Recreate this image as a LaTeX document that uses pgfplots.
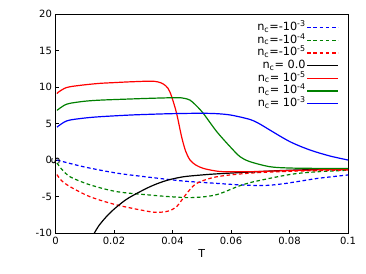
\documentclass[border=0pt]{standalone}
\usepackage{fontspec}
\setmainfont{DejaVu Sans}
\usepackage{pgfplots}
\pgfplotsset{compat=1.18}
\definecolor{dg}{rgb}{0,0.5,0}
\begin{document}
\fontsize{10bp}{12bp}\selectfont
\begin{tikzpicture}[x=1bp,y=1bp]
\useasboundingbox (-55.5,-41) rectangle (310.5,233);
\begin{axis}[
  at={(0,0)}, anchor=south west,
  scale only axis, width=292.5bp, height=219bp,
  xmin=0, xmax=0.1, ymin=-10, ymax=20,
  xtick={0,0.02,0.04,0.06,0.08,0.1},
  xticklabels={0,0.02,0.04,0.06,0.08,0.1},
  ytick={-10,-5,0,5,10,15,20},
  yticklabels={-10,-5,0,5,10,15,20},
  tick align=inside, xtick pos=bottom, ytick pos=left,
  major tick length=3.5bp,
  axis line style={line width=0.9bp},
  tick style={line width=0.7bp, black},
  xlabel={T}, ylabel={S},
  xlabel style={at={(axis description cs:0.5,0)}, anchor=center, yshift=-20bp, font=\fontsize{11bp}{12bp}\selectfont},
  ylabel style={at={(axis description cs:0,0.5)}, anchor=center, xshift=-37.5bp, rotate=0, font=\fontsize{11bp}{12bp}\selectfont},
  xticklabel style={yshift=-1bp},
  every tick label/.append style={font=\fontsize{10bp}{12bp}\selectfont},
  legend cell align=right,
  legend plot pos=right,
  legend style={at={(axis cs:0.1,20)}, anchor=north east, xshift=-8bp, yshift=-6bp, draw=none, fill=white,
    font=\fontsize{11.3bp}{12bp}\selectfont, row sep=0bp, inner sep=1bp,
    nodes={inner sep=1bp, text height=8.2bp, text depth=2.5bp}},
  legend image code/.code={\draw[#1, line width=1.2bp] (0bp,0bp) -- (31bp,0bp);},
  every axis plot/.append style={line width=1.2bp},
  clip=true,
]
\pgfplotsset{dsh/.style={dash pattern=on 3.6bp off 2.6bp}}
% n_c = -1e-3
\addplot[blue, dsh, smooth] coordinates {(0.0005,0)(0.0095,-0.92)(0.021,-1.8)(0.0323,-2.37)(0.0437,-2.88)(0.0551,-3.2)(0.0635,-3.42)(0.071,-3.5)(0.077,-3.3)(0.0825,-2.97)(0.09,-2.5)(0.1,-2.05)};
\addlegendentry{n\textsubscript{c}=-10\textsuperscript{-3}}
% n_c = -1e-4
\addplot[dg, dsh, smooth] coordinates {(0.0005,-0.4)(0.002,-1.2)(0.005,-2.3)(0.0118,-3.4)(0.021,-4.34)(0.0323,-4.8)(0.04,-5.05)(0.046,-5.16)(0.0517,-5.0)(0.0555,-4.7)(0.0585,-4.25)(0.0625,-3.6)(0.0665,-3.1)(0.071,-2.7)(0.0765,-2.25)(0.0825,-1.85)(0.09,-1.6)(0.1,-1.4)};
\addlegendentry{n\textsubscript{c}=-10\textsuperscript{-4}}
% n_c = -1e-5
\addplot[red, dsh, smooth] coordinates {(0.0005,-2.0)(0.002,-2.8)(0.005,-3.66)(0.0118,-5.03)(0.021,-6.16)(0.0323,-7.08)(0.036,-7.15)(0.0385,-7.0)(0.0414,-6.4)(0.0449,-4.56)(0.0483,-3.2)(0.0551,-2.3)(0.0665,-1.8)(0.08,-1.55)(0.1,-1.37)};
\addlegendentry{n\textsubscript{c}=-10\textsuperscript{-5}}
% n_c = 0
\addplot[black, smooth] coordinates {(0.0133,-10)(0.015,-8.9)(0.018,-7.5)(0.021,-6.4)(0.025,-5.2)(0.0323,-3.66)(0.038,-2.8)(0.0437,-2.3)(0.05,-2.05)(0.0551,-1.9)(0.0665,-1.65)(0.08,-1.4)(0.1,-1.2)};
\addlegendentry{n\textsubscript{c}= 0.0}
% n_c = 1e-5
\addplot[red, smooth] coordinates {(0.0005,9.1)(0.001,9.3)(0.003,9.8)(0.005,10.04)(0.01,10.3)(0.0152,10.5)(0.02,10.6)(0.025,10.7)(0.0323,10.8)(0.035,10.7)(0.0369,10.4)(0.0385,9.8)(0.0397,8.7)(0.0414,6.4)(0.0431,3.2)(0.0445,1.2)(0.046,0.0)(0.048,-0.7)(0.0505,-1.14)(0.054,-1.45)(0.0574,-1.6)(0.0665,-1.6)(0.08,-1.45)(0.1,-1.25)};
\addlegendentry{n\textsubscript{c}= 10\textsuperscript{-5}}
% n_c = 1e-4
\addplot[dg, smooth] coordinates {(0.0005,6.8)(0.001,6.95)(0.003,7.5)(0.005,7.77)(0.01,8.05)(0.0152,8.2)(0.025,8.35)(0.0323,8.45)(0.0414,8.54)(0.044,8.45)(0.046,8.2)(0.048,7.5)(0.0505,6.4)(0.0551,3.9)(0.0597,1.82)(0.0631,0.45)(0.0665,-0.23)(0.0733,-0.92)(0.0802,-1.1)(0.09,-1.15)(0.1,-1.15)};
\addlegendentry{n\textsubscript{c}= 10\textsuperscript{-4}}
% n_c = 1e-3
\addplot[blue, smooth] coordinates {(0.0005,4.5)(0.001,4.66)(0.003,5.2)(0.005,5.48)(0.01,5.75)(0.0152,5.93)(0.025,6.15)(0.0323,6.26)(0.04,6.35)(0.0494,6.4)(0.055,6.35)(0.06,6.15)(0.0665,5.55)(0.07,4.9)(0.0733,4.1)(0.0802,2.5)(0.087,1.37)(0.0938,0.55)(0.1,0.0)};
\addlegendentry{n\textsubscript{c}= 10\textsuperscript{-3}}
\end{axis}
\end{tikzpicture}
\end{document}
